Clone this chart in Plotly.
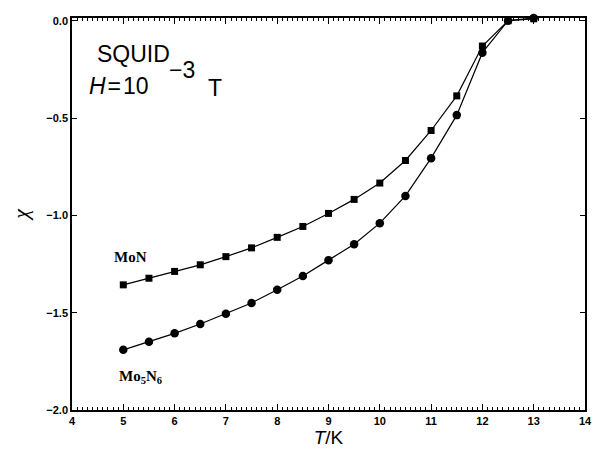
import plotly.graph_objects as go

T_mon = [5, 5.5, 6, 6.5, 7, 7.5, 8, 8.5, 9, 9.5, 10, 10.5, 11, 11.5, 12, 12.5, 13]
chi_mon = [-1.357, -1.323, -1.288, -1.254, -1.212, -1.167, -1.113, -1.057, -0.99, -0.918, -0.834, -0.718, -0.564, -0.386, -0.13, 0.0, 0.01]

T_mo5n6 = [5, 5.5, 6, 6.5, 7, 7.5, 8, 8.5, 9, 9.5, 10, 10.5, 11, 11.5, 12, 12.5, 13]
chi_mo5n6 = [-1.691, -1.649, -1.606, -1.558, -1.505, -1.45, -1.382, -1.312, -1.23, -1.148, -1.04, -0.9, -0.706, -0.485, -0.164, 0.0, 0.014]

x_ticks = [4, 5, 6, 7, 8, 9, 10, 11, 12, 13, 14]
y_ticks = [0.0, -0.5, -1.0, -1.5, -2.0]
y_labels = ["0.0", "\u22120.5", "\u22121.0", "\u22121.5", "\u22122.0"]

fig = go.Figure()
fig.add_trace(go.Scatter(x=T_mon, y=chi_mon, mode="lines+markers",
                         line=dict(color="black", width=1.2),
                         marker=dict(symbol="square", size=7, color="black"),
                         cliponaxis=False, name="MoN"))
fig.add_trace(go.Scatter(x=T_mo5n6, y=chi_mo5n6, mode="lines+markers",
                         line=dict(color="black", width=1.2),
                         marker=dict(symbol="circle", size=8.5, color="black"),
                         cliponaxis=False, name="Mo5N6"))

tickfont = dict(family="Liberation Sans, Arial", size=11, color="black")
fig.update_xaxes(range=[4, 14], tickvals=x_ticks, ticktext=["<b>%d</b>" % v for v in x_ticks],
                 showline=True, linecolor="black", linewidth=1.5, mirror="ticks",
                 ticks="inside", ticklen=6, tickwidth=1, tickcolor="black",
                 minor=dict(ticks="inside", dtick=0.1, ticklen=3, tickcolor="black", tickwidth=1),
                 showgrid=False, zeroline=False, tickfont=tickfont,
                 title=dict(text="<i>T</i>/K", font=dict(family="Liberation Sans, Arial", size=19, color="black"),
                            standoff=4))
fig.update_yaxes(range=[-2.0, 0.014], tickvals=y_ticks, ticktext=["<b>%s</b>" % s for s in y_labels],
                 showline=True, linecolor="black", linewidth=1.5, mirror="ticks",
                 ticks="inside", ticklen=5, tickwidth=1, tickcolor="black",
                 showgrid=False, zeroline=False, tickfont=tickfont,
                 title=dict(text="<i>\u03c7</i>", font=dict(family="Liberation Serif, Times New Roman", size=22, color="black"),
                            standoff=12))

big = dict(family="Liberation Sans, Arial", size=23, color="black")
bold = dict(family="Liberation Serif, Times New Roman", size=15, color="black")
annos = [
    dict(x=4.44, y=-0.172, text="SQUID", font=big, xanchor="left"),
    dict(x=4.3, y=-0.335, text="<i>H</i>\u200a=\u200a10", font=big, xanchor="left"),
    dict(x=5.85, y=-0.255, text="\u22123", font=big, xanchor="left"),
    dict(x=6.62, y=-0.345, text="T", font=big, xanchor="left"),
    dict(x=4.78, y=-1.215, text="<b>MoN</b>", font=bold, xanchor="left"),
    dict(x=4.87, y=-1.83, text="<b>Mo<sub>5</sub>N<sub>6</sub></b>", font=bold, xanchor="left"),
]
for a in annos:
    fig.add_annotation(xref="x", yref="y", showarrow=False, yanchor="middle", **a)

fig.update_layout(width=599, height=451, margin=dict(l=72, r=7, t=18, b=36),
                  plot_bgcolor="white", paper_bgcolor="white", showlegend=False)
fig.write_html("out.html")
